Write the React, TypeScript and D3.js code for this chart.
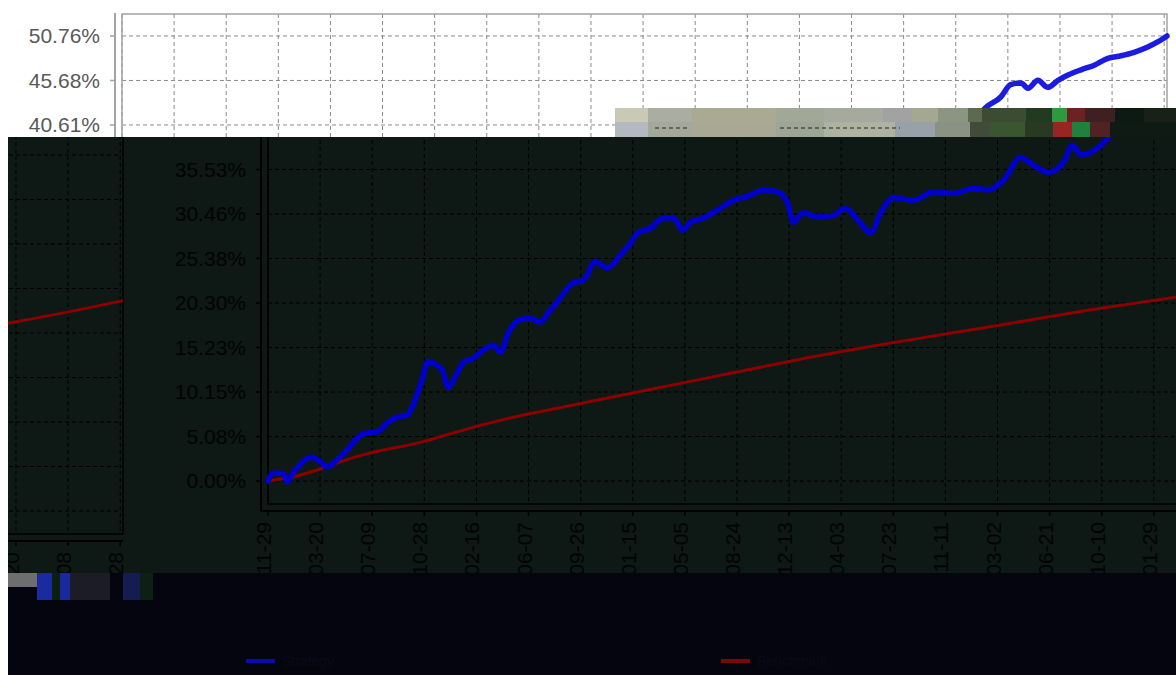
import * as d3 from 'd3';

// first trading day; series x values are day offsets from it
const startDate = new Date(2013, 10, 29);
const spanDays = 2226;

const xTickLabels = [
  '2013-11-29', '2014-03-20', '2014-07-09', '2014-10-28', '2015-02-16', '2015-06-07',
  '2015-09-26', '2016-01-15', '2016-05-05', '2016-08-24', '2016-12-13', '2017-04-03',
  '2017-07-23', '2017-11-11', '2018-03-02', '2018-06-21', '2018-10-10', '2019-01-29',
  '2019-05-20', '2019-09-08', '2019-12-28',
];

const yTicks = [0, 5.076, 10.152, 15.228, 20.304, 25.38, 30.456, 35.532, 40.608, 45.684, 50.76];

// strategy (blue)
const blueDays = [
  0, 11, 32, 41, 53, 75, 90, 107, 126, 147, 168, 190, 211, 232, 254, 275, 296, 313, 328, 341,
  360, 371, 384, 403, 416, 437, 458, 480, 495, 512, 537, 559, 580, 597, 616, 650, 672, 697, 723,
  751, 772, 787, 814, 842, 864, 883, 900, 928, 957, 991, 1028, 1055, 1085, 1107, 1119, 1141, 1171,
  1205, 1230, 1256, 1284, 1305, 1333, 1375, 1418, 1461, 1503, 1533, 1567, 1603, 1631, 1663, 1695,
  1714, 1731, 1768, 1789, 1840, 1872, 1893, 1915, 1930, 1951, 1972, 1994, 2015, 2043, 2070, 2100,
  2128, 2156, 2185, 2207, 2226,
];
const blueValues = [
  0.0, 0.9, 0.9, -0.1, 0.9, 2.2, 2.7, 2.4, 1.6, 2.4, 3.5, 4.9, 5.5, 5.6, 6.6, 7.3, 7.5, 9.2, 11.5, 13.6,
  13.2, 12.7, 10.7, 12.3, 13.5, 14.0, 14.9, 15.5, 14.7, 16.9, 18.4, 18.6, 18.1, 19.2, 20.4, 22.6, 22.9, 25.0, 24.3,
  25.8, 27.1, 28.3, 28.8, 30.0, 30.0, 28.6, 29.5, 30.0, 30.9, 32.0, 32.6, 33.2, 33.0, 31.7, 29.5, 30.6, 30.1,
  30.3, 31.1, 29.8, 28.3, 30.6, 32.3, 32.0, 33.0, 32.8, 33.4, 33.2, 34.3, 36.9, 36.0, 35.2, 36.4,
  38.3, 37.2, 38.0, 39.1, 42.6, 43.8, 45.2, 45.4, 44.8, 45.7, 44.9, 45.7, 46.3, 46.9, 47.4, 48.2,
  48.5, 48.9, 49.5, 50.1, 50.76,
];

// benchmark (red)
const redDays = [0, 62, 196, 345, 382, 559, 616, 800, 996, 1134, 1300, 1561, 1750, 1936, 2080, 2226];
const redValues = [0, 0.6, 2.9, 4.7, 5.3, 7.7, 8.3, 10.3, 12.4, 13.9, 15.5, 17.8, 19.5, 21.0, 22.4, 24.0];

const legendLabels = ['Strategy', 'Benchmark'];

const W = 1176;
const H = 675;
const plotLeft = 122;
const plotRight = 1167;
const plotTop = 14;
const plotBottom = 504;
const font = '"Liberation Sans", Arial, sans-serif';

const x = d3.scaleTime()
  .domain([startDate, d3.timeDay.offset(startDate, spanDays)])
  .range([plotLeft, plotRight]);
const y = d3.scaleLinear().domain([-2.538, 53.298]).range([503.3, 13.7]);

const toPts = (days: number[], vals: number[]): [Date, number][] =>
  days.map((d, i) => [d3.timeDay.offset(startDate, d), vals[i]]);

const line = d3.line<[Date, number]>()
  .x(d => x(d[0]))
  .y(d => y(d[1]))
  .curve(d3.curveMonotoneX);

const bluePath = line(toPts(blueDays, blueValues)) || '';
const redPath = line(toPts(redDays, redValues)) || '';
const xTicks = xTickLabels.map(s => d3.timeParse('%Y-%m-%d')(s) as Date);

const themes = {
  light: { text: '#595959', grid: '#8a8a8a', frame: '#a3a3a3', blue: '#1c1ce0', red: '#b00000' },
  dark: { text: '#020403', grid: '#000000', frame: '#000000', blue: '#0000cc', red: '#8c0000' },
};

// dx/dy shift the whole chart; visible[lo, hi] is the screen x band where its texts can show
function Chart({ dx, dy, theme, lo, hi }: { dx: number; dy: number; theme: 'light' | 'dark'; lo: number; hi: number }) {
  const c = themes[theme];
  const seen = (sx: number) => sx + dx >= lo && sx + dx <= hi;
  return (
    <g transform={`translate(${dx},${dy})`}>
      {/* grid */}
      {yTicks.map(t => (
        <line key={'gy' + t} x1={plotLeft} x2={plotRight} y1={y(t)} y2={y(t)}
          stroke={c.grid} strokeDasharray="4,3" />
      ))}
      {xTicks.map((t, i) => (
        <line key={'gx' + i} x1={x(t)} x2={x(t)} y1={plotTop} y2={plotBottom}
          stroke={c.grid} strokeDasharray="4,3" />
      ))}
      <rect x={plotLeft} y={plotTop} width={plotRight - plotLeft} height={plotBottom - plotTop}
        fill="none" stroke={c.frame} strokeWidth={1.5} />
      {/* y axis */}
      <line x1={115} x2={115} y1={plotTop - 1} y2={plotBottom + 7} stroke={c.frame} strokeWidth={2} />
      {yTicks.map(t => (
        <g key={'yl' + t}>
          <line x1={110} x2={115} y1={y(t)} y2={y(t)} stroke={c.frame} strokeWidth={1.5} />
          {seen(60) && (
            <text x={100} y={y(t)} dy="0.35em" textAnchor="end" fontSize={21}
              fontFamily={font} fill={c.text}>{t.toFixed(2) + '%'}</text>
          )}
        </g>
      ))}
      {/* x axis */}
      <line x1={plotLeft - 7} x2={plotRight} y1={plotBottom + 7} y2={plotBottom + 7}
        stroke={c.frame} strokeWidth={2} />
      {xTicks.map((t, i) => (
        <g key={'xl' + i}>
          <line x1={x(t)} x2={x(t)} y1={plotBottom + 7} y2={plotBottom + 12} stroke={c.frame} strokeWidth={1.5} />
          {seen(x(t)) && (
            <text transform={`translate(${x(t) + 3},${plotBottom + 18}) rotate(-90)`} textAnchor="end"
              fontSize={21} fontFamily={font} fill={c.text}>{xTickLabels[i]}</text>
          )}
        </g>
      ))}
      {/* series */}
      <path d={redPath} fill="none" stroke={c.red} strokeWidth={3} strokeLinejoin="round" />
      <path d={bluePath} fill="none" stroke={c.blue} strokeWidth={5.5} strokeLinejoin="round" strokeLinecap="round" />
    </g>
  );
}

// scrambled tiles across the seam of the two panels
const stripTop: [number, number, string][] = [
  [615, 648, '#c9c9b6'], [648, 692, '#aaaea2'], [692, 776, '#a9aa92'], [776, 824, '#a2a898'],
  [824, 883, '#a6aa9e'], [883, 912, '#a2a2a2'], [912, 938, '#a4a890'], [938, 968, '#8c9482'],
  [968, 982, '#5c6a52'], [982, 1026, '#3c4c32'], [1026, 1052, '#223a22'], [1052, 1067, '#2e9a40'],
  [1067, 1085, '#6c2222'], [1085, 1115, '#3e2020'], [1115, 1144, '#0d1a14'], [1144, 1176, '#182018'],
];
const stripBottom: [number, number, string][] = [
  [615, 648, '#b4b8c0'], [648, 692, '#a4a89c'], [692, 776, '#a8a894'], [776, 824, '#9ea496'],
  [824, 895, '#aeb2a0'], [895, 935, '#98a0aa'], [935, 970, '#8a9286'], [970, 990, '#424a3a'],
  [990, 1025, '#3a5630'], [1025, 1053, '#283a22'], [1053, 1072, '#9a2424'], [1072, 1090, '#20803e'],
  [1090, 1110, '#502222'], [1110, 1176, '#0e1a14'],
];
const noise: [number, number, string][] = [
  [8, 37, '#6e6e6e'], [37, 52, '#1a2aa0'], [52, 60, '#0c2010'], [60, 70, '#1a28a0'],
  [70, 110, '#1c1c26'], [123, 140, '#151c52'], [140, 153, '#0c2014'],
];

export default function App() {
  return (
    <svg width={W} height={H} style={{ position: 'absolute', left: 0, top: 0, display: 'block' }}>
      <defs>
        <clipPath id="cTop"><rect x={0} y={0} width={W} height={137} /></clipPath>
        <clipPath id="cMain"><rect x={122} y={137} width={W - 122} height={436} /></clipPath>
        <clipPath id="cLeft"><rect x={8} y={137} width={116} height={436} /></clipPath>
      </defs>
      <rect x={0} y={0} width={W} height={H} fill="#ffffff" />
      <g clipPath="url(#cTop)">
        <Chart dx={0} dy={0} theme="light" lo={0} hi={W} />
      </g>
      <rect x={8} y={137} width={W - 8} height={436} fill="#0e1815" />
      <g clipPath="url(#cMain)">
        <Chart dx={146} dy={0} theme="dark" lo={130} hi={W - 8} />
      </g>
      <g clipPath="url(#cLeft)">
        <Chart dx={-1044} dy={30} theme="dark" lo={8} hi={124} />
      </g>
      {stripTop.map(([a, b, col], i) => (
        <rect key={'st' + i} x={a} y={108} width={b - a} height={14} fill={col} />
      ))}
      {stripBottom.map(([a, b, col], i) => (
        <rect key={'sb' + i} x={a} y={122} width={b - a} height={15} fill={col} />
      ))}
      <line x1={655} x2={690} y1={128} y2={128} stroke="#222" strokeDasharray="4,3" />
      <line x1={780} x2={900} y1={128} y2={128} stroke="#222" strokeDasharray="4,3" />
      {/* legend band */}
      <rect x={8} y={573} width={W - 8} height={H - 573} fill="#05050f" />
      {noise.map(([a, b, col], i) => (
        <rect key={'n' + i} x={a} y={573} width={b - a} height={i === 0 ? 14 : 27} fill={col} />
      ))}
      <g fontFamily={font} fontSize={14} fill="#09091a">
        <rect x={246} y={659} width={29} height={4} fill="#0a0ab4" />
        <text x={282} y={666}>{legendLabels[0]}</text>
        <rect x={721} y={659} width={29} height={4} fill="#7a0808" />
        <text x={757} y={666}>{legendLabels[1]}</text>
      </g>
    </svg>
  );
}
